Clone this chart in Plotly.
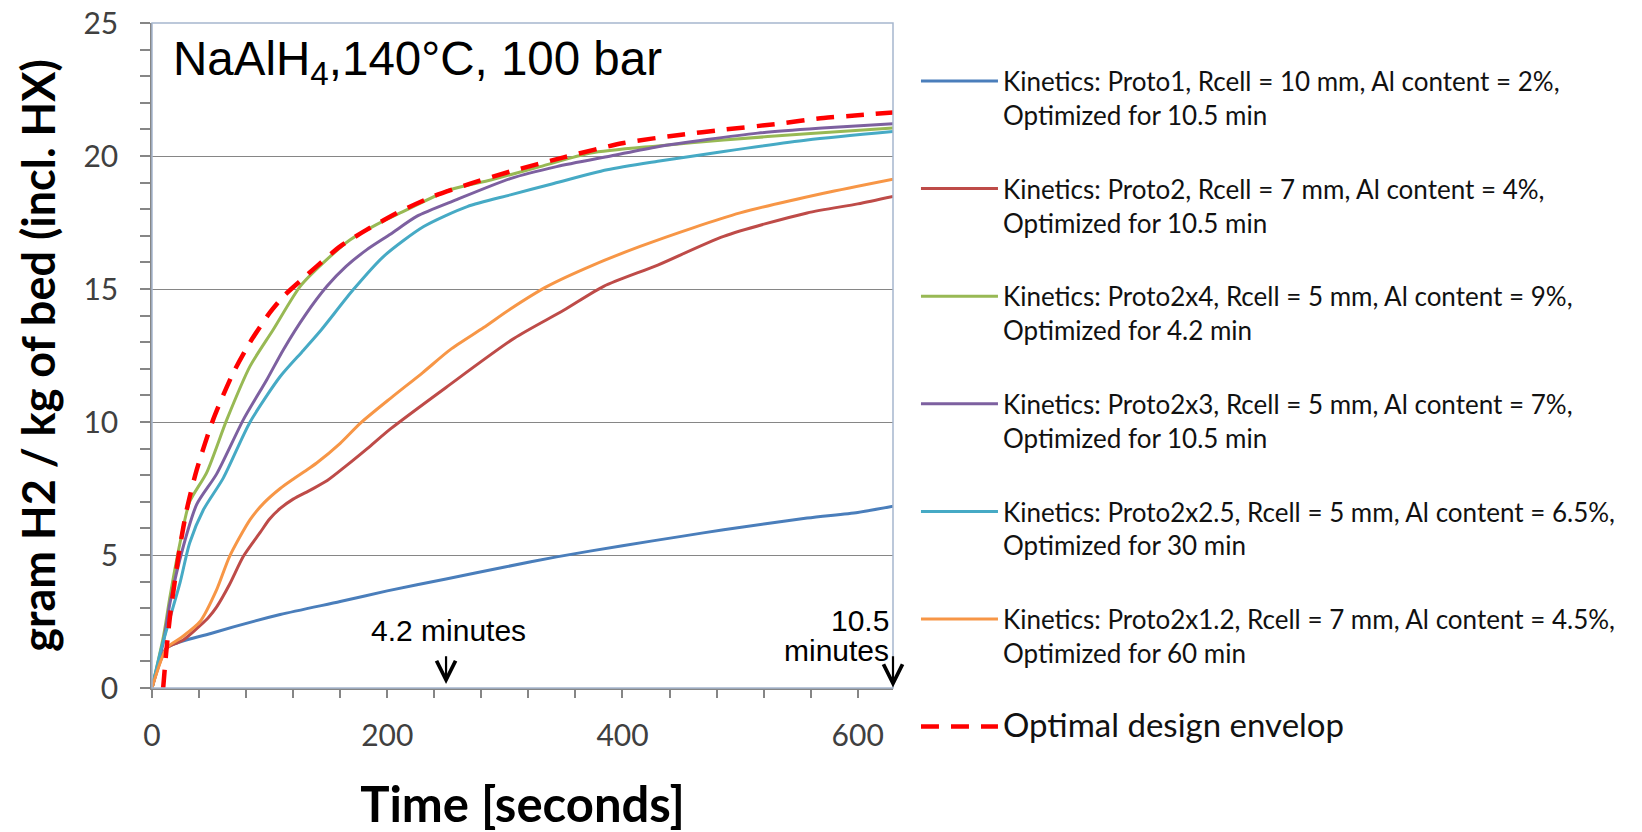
import plotly.graph_objects as go

# ---------------- data ----------------
t_proto1 = [0, 12.5, 50, 109, 160, 200, 250, 300, 344, 400, 450, 486, 557, 600, 630]
v_proto1 = [0, 1.5, 2.05, 2.76, 3.25, 3.65, 4.1, 4.55, 4.93, 5.35, 5.7, 5.95, 6.39, 6.6, 6.83]

t_proto2 = [0, 12.5, 26.6, 41, 48, 55, 66, 77.7, 92, 100, 109, 120, 135, 149, 165, 183, 203, 250, 308, 350, 384, 430, 486, 557, 600, 630]
v_proto2 = [0, 1.5, 1.8, 2.35, 2.65, 3.05, 3.9, 4.95, 5.85, 6.35, 6.75, 7.1, 7.45, 7.8, 8.35, 9.0, 9.75, 11.3, 13.15, 14.2, 15.1, 15.9, 16.98, 17.86, 18.2, 18.48]

t_proto2x4 = [0, 10, 15.3, 23.8, 32, 46.5, 63.6, 83.4, 103, 126, 146, 168.5, 190, 211, 253.6, 288, 330, 373, 430, 486, 560, 630]
v_proto2x4 = [0, 2.0, 3.44, 5.45, 7.0, 8.1, 10.09, 12.1, 13.47, 15.1, 16.0, 16.85, 17.4, 17.86, 18.73, 19.1, 19.6, 20.11, 20.38, 20.6, 20.85, 21.05]

t_proto2x3 = [0, 10, 15.3, 26.6, 38, 55, 77.7, 97.6, 111.7, 130, 148.7, 165, 182.7, 203, 225, 259, 304.7, 344, 390, 430, 515, 570, 630]
v_proto2x3 = [0, 1.8, 3.2, 5.32, 6.9, 8.05, 10.09, 11.59, 12.72, 14.0, 15.1, 15.85, 16.48, 17.07, 17.73, 18.36, 19.15, 19.6, 20.0, 20.35, 20.86, 21.05, 21.21]

t_proto2x25 = [0, 8, 14, 23.8, 32, 43.7, 60.7, 83.4, 109, 128.8, 144, 171, 197, 231, 268, 304.7, 340, 387, 430, 486, 557, 630]
v_proto2x25 = [0, 1.5, 2.44, 3.95, 5.45, 6.7, 7.9, 10.0, 11.71, 12.7, 13.47, 14.97, 16.23, 17.35, 18.1, 18.54, 18.95, 19.48, 19.8, 20.17, 20.6, 20.92]

t_proto2x12 = [0, 12.5, 25, 40.9, 55, 66, 83.4, 95, 109, 120, 130, 140, 160, 177, 203, 230, 253.6, 282, 304.7, 336, 375, 415, 460, 500, 571, 630]
v_proto2x12 = [0, 1.5, 1.9, 2.5, 3.7, 4.95, 6.33, 6.95, 7.5, 7.85, 8.15, 8.46, 9.2, 9.95, 10.9, 11.85, 12.72, 13.55, 14.25, 15.1, 15.9, 16.6, 17.3, 17.86, 18.6, 19.13]

t_envelope = [9.5, 12, 15.3, 20, 23.8, 29.5, 38, 52, 69, 83.4, 100, 111.7, 126, 140, 160, 182.7, 211, 239, 270, 304.7, 350, 401, 450, 486, 530, 571, 600, 630]
v_envelope = [0, 1.3, 2.7, 4.2, 5.32, 6.7, 8.2, 10.09, 11.84, 13.0, 14.1, 14.72, 15.3, 15.85, 16.6, 17.23, 17.92, 18.48, 18.95, 19.42, 19.95, 20.49, 20.8, 20.99, 21.2, 21.43, 21.53, 21.64]

series_names = [
    "Kinetics: Proto1, Rcell = 10 mm, Al content = 2%,<br>Optimized for 10.5 min",
    "Kinetics: Proto2, Rcell = 7 mm, Al content = 4%,<br>Optimized for 10.5 min",
    "Kinetics: Proto2x4, Rcell = 5 mm, Al content = 9%,<br>Optimized for 4.2 min",
    "Kinetics: Proto2x3, Rcell = 5 mm, Al content = 7%,<br>Optimized for 10.5 min",
    "Kinetics: Proto2x2.5, Rcell = 5 mm, Al content = 6.5%,<br>Optimized for 30 min",
    "Kinetics: Proto2x1.2, Rcell = 7 mm, Al content = 4.5%,<br>Optimized for 60 min",
]
envelope_name = "Optimal design envelop"

x_tick_vals = [0, 200, 400, 600]
y_tick_vals = [0, 5, 10, 15, 20, 25]

# marker texts: (x, y, text, anchor) and arrows: (x, tip y, tail y)
marker_labels = [(252, 2.15, "4.2 minutes", "center"), (628, 2.53, "10.5", "right"), (628, 1.40, "minutes", "right")]
marker_arrows = [(250, 0.15, 1.25), (630, 0.02, 1.25)]

# ---------------- styling ----------------
series = [
    (t_proto1, v_proto1, "#4A7EBB"),
    (t_proto2, v_proto2, "#BE4B48"),
    (t_proto2x4, v_proto2x4, "#98B954"),
    (t_proto2x3, v_proto2x3, "#7D60A0"),
    (t_proto2x25, v_proto2x25, "#46AAC5"),
    (t_proto2x12, v_proto2x12, "#F79646"),
]

fig = go.Figure()
for i, ((tx, vy, col), name) in enumerate(zip(series, series_names)):
    fig.add_trace(go.Scatter(
        x=tx, y=vy, mode="lines", name=name, legendgroup=f"g{i}",
        line=dict(color=col, width=3, shape="spline", smoothing=0.7),
        hoverinfo="skip",
    ))

fig.add_trace(go.Scatter(
    x=t_envelope, y=v_envelope, mode="lines", legendgroup="env",
    name=f'<span style="font-size:33px;">{envelope_name}</span>',
    line=dict(color="#FF0000", width=4.5, dash="18px,12px", shape="spline", smoothing=0.7),
    hoverinfo="skip",
))

axis_grey = "#868686"
tick_font = dict(family="Lato, Open Sans, sans-serif", size=30, color="#404040")
title_family = "Lato, Open Sans, sans-serif"

fig.update_layout(
    width=1642, height=832,
    margin=dict(l=152, r=749, t=23, b=144, autoexpand=False),
    paper_bgcolor="white", plot_bgcolor="white",
    showlegend=True,
    legend=dict(
        x=1.031, y=0.948, xanchor="left", yanchor="top", maxheight=820,
        font=dict(family="Lato, Open Sans, sans-serif", size=26, color="#111111"),
        itemwidth=77, tracegroupgap=37, valign="top",
        bgcolor="rgba(0,0,0,0)", borderwidth=0,
    ),
    xaxis=dict(
        range=[0, 630], tickvals=x_tick_vals, ticks="outside", ticklen=8, tickwidth=1.5,
        tickcolor=axis_grey, showline=True, linecolor=axis_grey, linewidth=1.5,
        showgrid=False, zeroline=False, tickfont=tick_font, ticklabelstandoff=12,
        minor=dict(dtick=40, tick0=0, ticks="outside", ticklen=8, tickwidth=1.5, tickcolor=axis_grey, showgrid=False),
        title=dict(text="<b>Time [seconds]</b>", standoff=43,
                   font=dict(family=title_family, size=49, color="black")),
    ),
    yaxis=dict(
        range=[0, 25], tickvals=y_tick_vals, ticks="outside", ticklen=10, tickwidth=1.5,
        tickcolor=axis_grey, showline=True, linecolor=axis_grey, linewidth=1.5,
        showgrid=True, gridcolor=axis_grey, gridwidth=1.2, zeroline=False,
        tickfont=tick_font, ticklabelstandoff=16,
        minor=dict(dtick=1, tick0=0, ticks="outside", ticklen=10, tickwidth=1.5, tickcolor=axis_grey, showgrid=False),
        title=dict(text="<b>gram H2 / kg of bed (incl. HX)</b>", standoff=14,
                   font=dict(family=title_family, size=45, color="black")),
    ),
    shapes=[dict(type="rect", xref="paper", yref="paper", x0=0, x1=1, y0=0, y1=1,
                 line=dict(color="#A6B7CE", width=1.5), layer="above")],
)

ann_font = "Liberation Sans, Arial, sans-serif"
fig.add_annotation(x=16, y=23.55, xref="x", yref="y", xanchor="left", yanchor="middle",
                   text="NaAlH<sub>4</sub>,140°C, 100 bar", showarrow=False,
                   font=dict(family=ann_font, size=47.5, color="black"))
for mx, my, txt, anchor in marker_labels:
    fig.add_annotation(x=mx, y=my, xref="x", yref="y", xanchor=anchor, yanchor="middle",
                       text=txt, showarrow=False,
                       font=dict(family=ann_font, size=30, color="black"))
for mx, tip, tail in marker_arrows:
    fig.add_annotation(x=mx, y=tip, ax=mx, ay=tail, xref="x", yref="y",
                       axref="x", ayref="y", text="", showarrow=True,
                       arrowhead=5, arrowsize=1.7, arrowwidth=2.2, arrowcolor="black")

fig.write_html("out.html")
